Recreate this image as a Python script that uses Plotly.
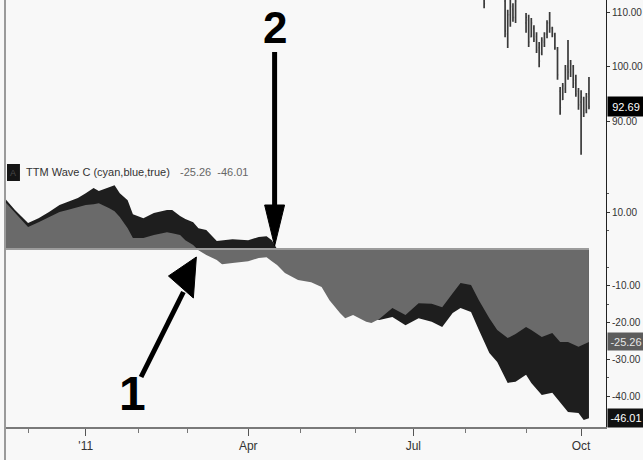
import plotly.graph_objects as go

# ---------------- data ----------------
# x positions are trading-bar indices (0 = first bar of 2011)
month_ticks = [0, 62, 125, 189]
month_labels = ["'11", "Apr", "Jul", "Oct"]
minor_month_ticks = [-22, 20, 39, 82, 103, 145, 168]

wave_bar = [-31, -27, -22, -18, -14, -10, -7, -3, 0, 3, 5, 9, 11, 13, 16, 18, 22, 26, 31, 33,
            36, 38, 41, 43, 46, 50, 52, 56, 62, 66, 69, 71, 73, 76, 81, 86, 90, 93, 97, 99,
            102, 107, 109, 112, 117, 122, 127, 132, 136, 140, 143, 147, 150, 154, 157, 161,
            164, 168, 170, 174, 178, 181, 184, 188, 190, 192]
wave_blue = [13.9, 10.6, 7.1, 8.4, 10.1, 12.0, 12.8, 13.9, 15.2, 16.6, 15.8, 16.8, 17.4, 15.2,
             13.3, 9.5, 8.4, 9.8, 10.6, 10.6, 9.0, 8.2, 7.3, 5.7, 5.2, 2.2, 2.4, 2.7, 2.4, 3.3,
             3.5, 2.4, 0.0, -1.6, -3.5, -5.2, -7.1, -9.8, -12.5, -13.9, -14.7, -16.6, -18.8,
             -19.3, -18.5, -20.7, -18.8, -19.8, -21.2, -17.4, -16.0, -17.1, -22.0, -28.3,
             -30.7, -36.4, -36.1, -34.2, -36.4, -39.7, -39.1, -41.8, -44.3, -44.6, -46.5, -46.01]
wave_cyan = [13.0, 9.8, 6.0, 7.3, 8.7, 10.1, 10.6, 11.4, 12.0, 12.2, 12.5, 11.1, 10.3, 8.7,
             5.7, 3.0, 3.0, 3.8, 4.6, 4.3, 3.8, 2.4, 1.1, -0.3, -1.6, -3.0, -4.1, -3.8, -3.3,
             -2.4, -2.2, -3.3, -4.3, -6.5, -8.4, -9.0, -10.3, -13.9, -17.4, -18.8, -17.9,
             -19.8, -20.1, -19.0, -16.0, -17.9, -14.7, -14.9, -15.8, -12.0, -9.2, -9.8, -13.9,
             -18.8, -22.0, -24.2, -23.1, -21.2, -22.0, -23.9, -22.8, -25.3, -25.3, -26.6,
             -26.0, -25.26]

price_bar = [152, 160, 161, 162, 163, 164, 168, 169, 170, 171, 172, 173, 174, 175, 176, 177,
             178, 179, 180, 181, 182, 183, 184, 185, 186, 187, 188, 189, 190, 191, 192]
price_high = [114.0, 113.5, 110.4, 113.0, 111.6, 113.0, 109.8, 109.5, 108.9, 107.6, 106.3,
              104.5, 105.4, 106.3, 108.5, 110.0, 107.3, 106.2, 103.6, 96.3, 97.0, 100.3, 104.9,
              101.2, 100.3, 98.5, 96.1, 95.7, 94.5, 95.2, 98.1]
price_low = [110.7, 105.4, 103.4, 107.3, 108.2, 108.0, 106.2, 103.6, 105.4, 104.5, 102.5,
             99.9, 102.1, 103.6, 105.2, 106.2, 105.4, 103.1, 97.6, 91.2, 93.9, 95.2, 97.6,
             98.1, 96.1, 94.5, 92.1, 83.9, 90.8, 91.5, 92.2]
price_open = [112.5, 112.0, 106.0, 109.5, 110.5, 109.0, 108.0, 108.5, 105.5, 107.0, 105.5,
              103.5, 102.5, 104.5, 106.0, 108.0, 107.0, 105.8, 103.0, 95.5, 94.0, 96.0, 100.0,
              99.5, 100.0, 97.5, 95.5, 93.5, 94.0, 92.0, 95.0]
price_close = [111.5, 106.5, 109.5, 111.0, 109.0, 112.0, 109.0, 104.5, 108.0, 105.0, 103.0,
               101.0, 104.8, 106.0, 108.0, 107.0, 106.0, 103.5, 98.5, 92.5, 96.5, 99.5, 99.0,
               100.5, 97.0, 95.0, 93.0, 94.5, 91.5, 94.5, 92.69]

price_ticks = [110, 100, 90]
wave_ticks = [10, -10, -20, -30, -40]
wave_minor_ticks = [15, 5, -5, -15, -35]

# ---------------- layout helpers ----------------
W, H = 643, 460
ML, MR, MT, MB = 5, 35, 0, 33
PW, PH = W - ML - MR, H - MT - MB


def PX(x):
    return (x - ML) / PW


def PY(y):
    return (H - MB - y) / PH


FONT = "Liberation Sans, Arial, sans-serif"
BG = "#f8f8f8"

fig = go.Figure()

# indicator: dark (blue) wave first, gray (cyan) wave on top
fig.add_trace(go.Scatter(x=wave_bar, y=wave_blue, mode="lines", fill="tozeroy",
                         fillcolor="#1e1e1e", line=dict(width=0, color="#1e1e1e"),
                         xaxis="x", yaxis="y", hoverinfo="skip", showlegend=False))
fig.add_trace(go.Scatter(x=wave_bar, y=wave_cyan, mode="lines", fill="tozeroy",
                         fillcolor="#6a6a6a", line=dict(width=0, color="#6a6a6a"),
                         xaxis="x", yaxis="y", hoverinfo="skip", showlegend=False))
fig.add_trace(go.Scatter(x=[wave_bar[0], wave_bar[-1]], y=[0, 0], mode="lines",
                         line=dict(width=2, color="#9c9c9c"),
                         xaxis="x", yaxis="y", hoverinfo="skip", showlegend=False))

# price bars
fig.add_trace(go.Ohlc(x=price_bar, open=price_open, high=price_high, low=price_low,
                      close=price_close, xaxis="x", yaxis="y2",
                      increasing=dict(line=dict(color="#3a3a3a", width=1.7)),
                      decreasing=dict(line=dict(color="#3a3a3a", width=1.7)),
                      tickwidth=0.35, showlegend=False, hoverinfo="skip"))

ytickfont = dict(family=FONT, size=10, color="#333333")
xtickfont = dict(family=FONT, size=12, color="#333333")

fig.update_layout(
    width=W, height=H,
    margin=dict(l=ML, r=MR, t=MT, b=MB),
    paper_bgcolor=BG, plot_bgcolor=BG,
    showlegend=False,
    xaxis=dict(domain=[0, 1], anchor="y", range=[-30.8, 198.5],
               tickmode="array", tickvals=month_ticks, ticktext=month_labels,
               ticks="outside", ticklen=7, tickwidth=1, tickcolor="#555555",
               showline=True, linecolor="#7a7a7a", linewidth=2,
               showgrid=False, zeroline=False, tickfont=xtickfont,
               minor=dict(tickmode="array", tickvals=minor_month_ticks, ticks="outside",
                          ticklen=4, tickcolor="#777777", showgrid=False),
               rangeslider=dict(visible=False)),
    yaxis=dict(domain=[0, 0.625], anchor="x", side="right", range=[-48.4, 24.2],
               tickmode="array", tickvals=wave_ticks,
               ticktext=[f"{v:.2f}" for v in wave_ticks],
               ticks="outside", ticklen=3, tickcolor="#333333",
               showline=True, linecolor="#222222", linewidth=1,
               showgrid=False, zeroline=False, tickfont=ytickfont,
               minor=dict(tickmode="array", tickvals=wave_minor_ticks, ticks="outside",
                          ticklen=2, tickcolor="#555555", showgrid=False)),
    yaxis2=dict(domain=[0.625, 1], anchor="x", side="right", range=[82.9, 112.2],
                tickmode="array", tickvals=price_ticks,
                ticktext=[f"{v:.2f}" for v in price_ticks],
                ticks="outside", ticklen=3, tickcolor="#333333",
                showline=True, linecolor="#222222", linewidth=1,
                showgrid=False, zeroline=False, tickfont=ytickfont),
)

shapes = []
# left border line
shapes.append(dict(type="line", xref="paper", yref="paper", x0=0, x1=0,
                   y0=PY(H), y1=1, line=dict(color="#9a9a9a", width=2)))
# legend icon
shapes.append(dict(type="rect", xref="paper", yref="paper", x0=PX(7), x1=PX(20),
                   y0=PY(181), y1=PY(164), fillcolor="#151515", line=dict(width=0)))
# arrow 2
shapes.append(dict(type="line", xref="paper", yref="paper", x0=PX(275.5), x1=PX(275.5),
                   y0=PY(52), y1=PY(212), line=dict(color="#000000", width=5)))
shapes.append(dict(type="path", xref="paper", yref="paper",
                   path=f"M {PX(265.5)} {PY(205)} L {PX(285.5)} {PY(205)} L {PX(275.5)} {PY(246)} Z",
                   fillcolor="#000000", line=dict(color="#000000", width=1)))
# arrow 1
shapes.append(dict(type="line", xref="paper", yref="paper", x0=PX(141.5), x1=PX(184),
                   y0=PY(377), y1=PY(292), line=dict(color="#000000", width=5)))
shapes.append(dict(type="path", xref="paper", yref="paper",
                   path=f"M {PX(169)} {PY(276)} L {PX(197)} {PY(257)} L {PX(194)} {PY(298)} Z",
                   fillcolor="#000000", line=dict(color="#000000", width=1)))
fig.update_layout(shapes=shapes)

annotations = [
    dict(xref="paper", yref="paper", x=PX(13.5), y=PY(172.5), text="A", showarrow=False,
         font=dict(family=FONT, size=9, color="#4a4a4a"), xanchor="center", yanchor="middle"),
    dict(xref="paper", yref="paper", x=PX(24), y=PY(172), text="TTM Wave C (cyan,blue,true)",
         showarrow=False, font=dict(family=FONT, size=11, color="#333333"),
         xanchor="left", yanchor="middle"),
    dict(xref="paper", yref="paper", x=PX(179), y=PY(172),
         text=f"{wave_cyan[-1]:.2f}  {wave_blue[-1]:.2f}",
         showarrow=False, font=dict(family=FONT, size=11, color="#666666"),
         xanchor="left", yanchor="middle"),
    dict(xref="paper", yref="paper", x=PX(276), y=PY(28), text="<b>2</b>", showarrow=False,
         font=dict(family=FONT, size=44, color="#000000"), xanchor="center", yanchor="middle"),
    dict(xref="paper", yref="paper", x=PX(133), y=PY(393), text="<b>1</b>", showarrow=False,
         font=dict(family=FONT, size=48, color="#000000"), xanchor="center", yanchor="middle"),
    # last-value boxes on the right axis
    dict(xref="paper", yref="y2", x=1, y=price_close[-1], text=f"{price_close[-1]:.2f}",
         showarrow=False, xanchor="left", yanchor="middle", xshift=1, width=34, height=17,
         bgcolor="#000000", font=dict(family=FONT, size=11, color="#ffffff")),
    dict(xref="paper", yref="y", x=1, y=wave_cyan[-1], text=f"{wave_cyan[-1]:.2f}",
         showarrow=False, xanchor="left", yanchor="middle", xshift=1, width=34, height=15,
         bgcolor="#5c5c5c", font=dict(family=FONT, size=11, color="#e6e6e6")),
    dict(xref="paper", yref="y", x=1, y=wave_blue[-1], text=f"{wave_blue[-1]:.2f}",
         showarrow=False, xanchor="left", yanchor="middle", xshift=1, width=34, height=16,
         bgcolor="#111111", font=dict(family=FONT, size=11, color="#ffffff")),
]
fig.update_layout(annotations=annotations)

fig.write_html("out.html", config={"displayModeBar": False},
               post_script="document.body.style.margin='0';document.body.style.overflow='hidden';")
